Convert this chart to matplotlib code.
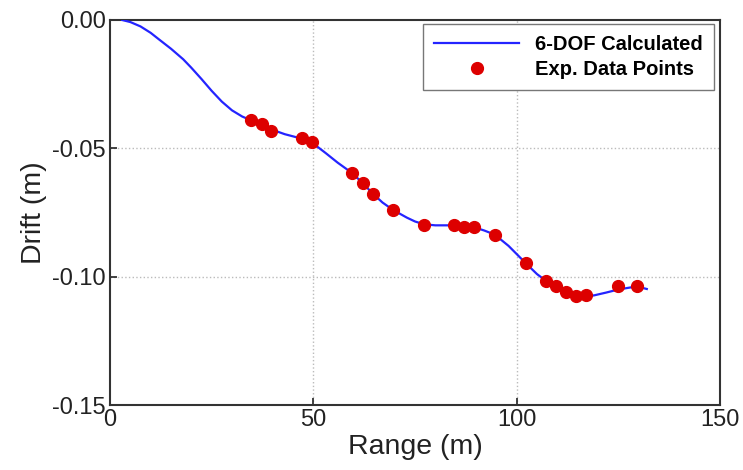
import matplotlib
matplotlib.use('Agg')
import matplotlib.pyplot as plt

plt.rcParams['font.family'] = ['Liberation Sans', 'DejaVu Sans']

# Curva calculada 6-DOF
calc_range = [3, 5, 7.5, 10, 12, 15, 18, 20, 22.5, 25, 27.5, 30, 32.5, 34.7, 37.3,
              39.6, 43, 47.1, 49.7, 53, 56, 59.6, 62.1, 64.6, 67, 69.6, 73, 75, 77.2,
              80, 84.6, 87, 90, 92, 94.6, 98, 102.2, 105, 107.1, 109.6, 112.2, 114.6,
              117, 119, 122, 125, 128, 130, 132]
calc_drift = [0.0, -0.0008, -0.0025, -0.0050, -0.0075, -0.0112, -0.0153, -0.0186,
              -0.0230, -0.0276, -0.0318, -0.0352, -0.0376, -0.0391, -0.0408, -0.0426,
              -0.0445, -0.0462, -0.0478, -0.0518, -0.0556, -0.0597, -0.0635, -0.0676,
              -0.0711, -0.0740, -0.0770, -0.0785, -0.0796, -0.0800, -0.0800, -0.0803,
              -0.0810, -0.0820, -0.0836, -0.0880, -0.0947, -0.0990, -0.1015, -0.1040,
              -0.1060, -0.1072, -0.1076, -0.1073, -0.1062, -0.1050, -0.1042, -0.1040,
              -0.1048]

# Datos experimentales
exp_range = [34.7, 37.3, 39.6, 47.1, 49.7, 59.6, 62.1, 64.6, 69.6, 77.2, 84.6,
             87.1, 89.6, 94.6, 102.2, 107.1, 109.6, 112.2, 114.6, 117.1, 124.8, 129.7]
exp_drift = [-0.0390, -0.0406, -0.0431, -0.0461, -0.0477, -0.0597, -0.0635, -0.0678,
             -0.0741, -0.0797, -0.0797, -0.0806, -0.0805, -0.0836, -0.0947, -0.1015,
             -0.1037, -0.1061, -0.1074, -0.1073, -0.1036, -0.1035]

fig = plt.figure(figsize=(7.43, 4.70), dpi=100)
ax = fig.add_axes([110 / 743, 1 - 405 / 470, 610 / 743, 385 / 470])

ax.plot(calc_range, calc_drift, color='#2424ff', linewidth=1.6, label='6-DOF Calculated', zorder=3)
ax.plot(exp_range, exp_drift, 'o', color='#dd0000', markersize=8.5, label='Exp. Data Points', zorder=4)

ax.set_xlim(0, 150)
ax.set_ylim(-0.15, 0.0)
ax.set_xticks([0, 50, 100, 150])
ax.set_yticks([0.0, -0.05, -0.10, -0.15])
ax.set_yticklabels(['0.00', '-0.05', '-0.10', '-0.15'])
ax.tick_params(direction='in', length=5, width=1.2, labelsize=17, pad=3, colors='#222222')
for s in ax.spines.values():
    s.set_linewidth(1.5)
    s.set_color('#333333')

for gx in [50, 100]:
    ax.axvline(gx, color='#bbbbbb', linestyle=':', linewidth=1.0, zorder=1)
for gy in [-0.05, -0.10]:
    ax.axhline(gy, color='#bbbbbb', linestyle=':', linewidth=1.0, zorder=1)

ax.set_xlabel('Range (m)', fontsize=20.5, labelpad=2, color='#222222')
ax.set_ylabel('Drift (m)', fontsize=20.5, labelpad=4, color='#222222')

leg = ax.legend(loc='upper right', bbox_to_anchor=(0.99, 0.99), borderaxespad=0,
                fancybox=False, framealpha=1, edgecolor='#777777', handlelength=4.2,
                numpoints=1, prop={'weight': 'bold', 'size': 14.5}, borderpad=0.55,
                labelspacing=0.3, handletextpad=0.8)
leg.get_frame().set_linewidth(1.0)

fig.savefig('out.png', dpi=100)
